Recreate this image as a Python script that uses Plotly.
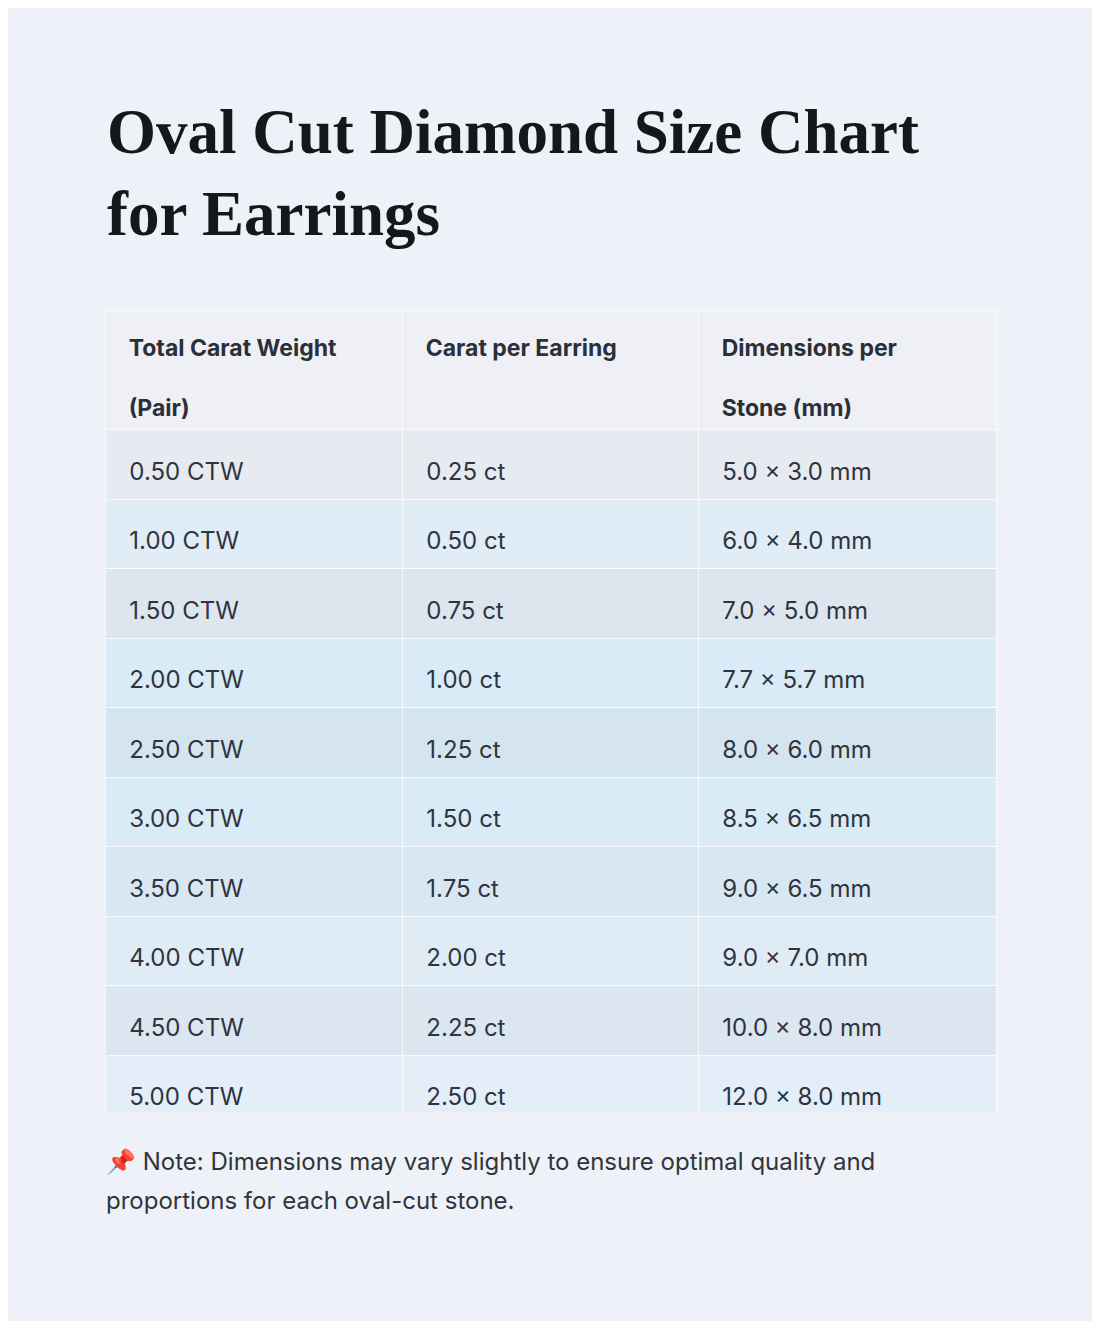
import plotly.graph_objects as go

total_ctw = ["0.50 CTW", "1.00 CTW", "1.50 CTW", "2.00 CTW", "2.50 CTW",
             "3.00 CTW", "3.50 CTW", "4.00 CTW", "4.50 CTW", "5.00 CTW"]
per_earring = ["0.25 ct", "0.50 ct", "0.75 ct", "1.00 ct", "1.25 ct",
               "1.50 ct", "1.75 ct", "2.00 ct", "2.25 ct", "2.50 ct"]
dimensions = ["5.0 × 3.0 mm", "6.0 × 4.0 mm", "7.0 × 5.0 mm", "7.7 × 5.7 mm",
              "8.0 × 6.0 mm", "8.5 × 6.5 mm", "9.0 × 6.5 mm", "9.0 × 7.0 mm",
              "10.0 × 8.0 mm", "12.0 × 8.0 mm"]
headers = [["Total Carat Weight", "(Pair)"], ["Carat per Earring", ""], ["Dimensions per", "Stone (mm)"]]

W, H = 1100, 1321
OFF = 8  # page margin offset
pad = "\u2002\u2009"
sp = "<span style='font-size:11px'> </span><br>"
hsp = "<span style='font-size:8px'> </span><br>"


def px_x(v):
    return (v - OFF) / W


def px_y(v):
    return 1 - (v - OFF) / H


odd = ["#e7eaf0", "#e2e8ef", "#dde6ee", "#cfe2ee", "#d5e5f0",
       "#d5e6f1", "#d9e7f2", "#d9e6f1", "#dbe6f0", "#dee7f2"]
even = ["#eaeff7", "#e0ecf6", "#dbebf6", "#d8ebf6", "#d7eaf6",
        "#d8ebf6", "#dcebf6", "#dfecf6", "#e1edf7", "#e3eef8"]
fills = [odd[i] if i % 2 == 0 else even[i] for i in range(len(total_ctw))]


def hdr(lines):
    out = hsp + pad + "<b>" + lines[0] + "</b>"
    if lines[1]:
        out += "<br>" + hsp + pad + "<b>" + lines[1] + "</b>"
    return out


fig = go.Figure(go.Table(
    domain=dict(x=[px_x(105), px_x(996)], y=[px_y(1112), px_y(310)]),
    columnwidth=[297, 296, 298],
    header=dict(
        values=[hdr(h) for h in headers],
        align="left", height=108,
        fill_color="#eef0f6",
        line_color="rgba(255,255,255,0.7)",
        font=dict(family="Inter", size=23, color="#2b2f38"),
    ),
    cells=dict(
        values=[[sp + pad + v for v in col] for col in (total_ctw, per_earring, dimensions)],
        align="left", height=69.5,
        fill_color=[fills] * 3,
        line_color="rgba(255,255,255,0.7)",
        font=dict(family="Inter", size=24, color="#2f3440"),
    ),
))

fig.add_annotation(
    x=px_x(105), y=px_y(95), xref="paper", yref="paper", xanchor="left", yanchor="top",
    text="<b>Oval Cut Diamond Size Chart<br>for Earrings</b>", showarrow=False, align="left",
    font=dict(family="Liberation Serif", size=63, color="#15171c"),
)
for i, line in enumerate(["📌 Note: Dimensions may vary slightly to ensure optimal quality and",
                          "proportions for each oval-cut stone."]):
    fig.add_annotation(
        x=px_x(104), y=px_y(1145 + 39 * i), xref="paper", yref="paper", xanchor="left", yanchor="top",
        text=line, showarrow=False, align="left",
        font=dict(family="Inter", size=24, color="#30343c"),
    )

fig.update_layout(
    width=W, height=H, margin=dict(l=0, r=0, t=0, b=0),
    paper_bgcolor="#eef1f7", plot_bgcolor="#eef1f7",
)
fig.write_html("out.html")
